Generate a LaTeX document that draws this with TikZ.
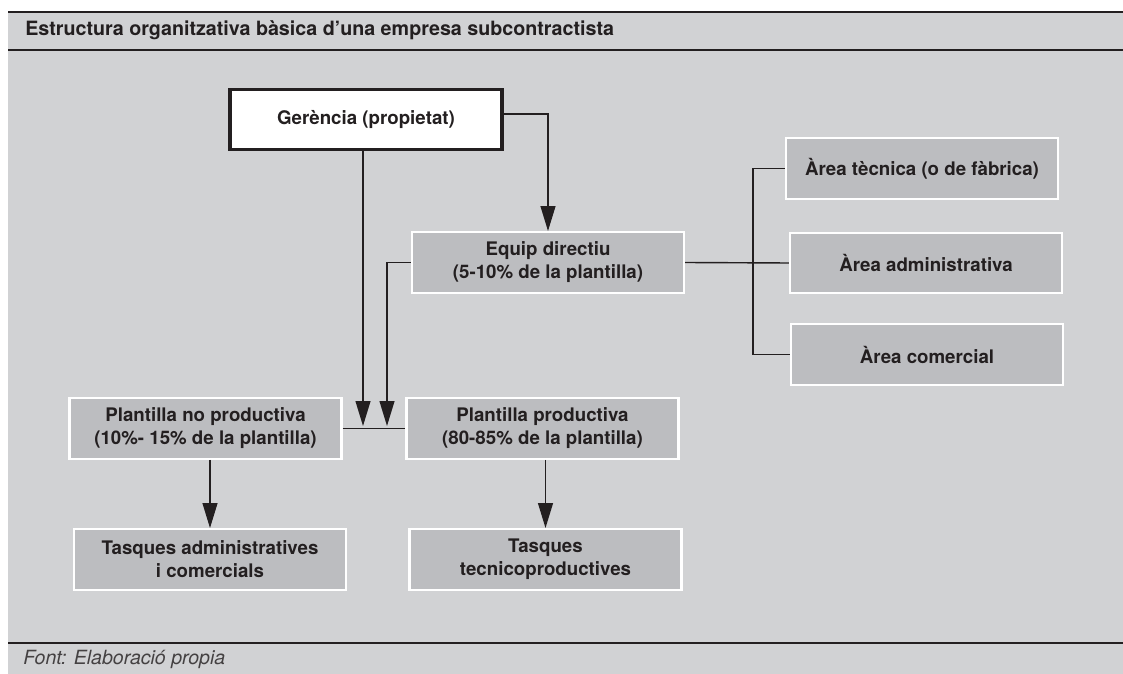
\documentclass[tikz,border=0pt]{standalone}
\usepackage{fontspec}
\setmainfont{TeX Gyre Heros}
\usepackage{xcolor}
\usepackage{tikz}
\usetikzlibrary{arrows.meta,positioning,calc}
\definecolor{panel}{HTML}{D1D2D4}
\definecolor{boxgrey}{HTML}{BCBDC0}
\definecolor{ink}{HTML}{231F20}

\begin{document}
\begin{tikzpicture}[
    x=0.025cm, y=-0.025cm,
    font=\fontsize{13.3}{16.4}\selectfont\bfseries,
    >={Triangle[length=6.2mm,width=3.7mm]},
    box/.style={draw=white, line width=1.5pt, fill=boxgrey, text=ink, align=center, minimum width=6.8cm, minimum height=1.52cm, inner sep=2pt},
    owner/.style={box, fill=white, draw=ink, line width=2.2pt},
    link/.style={draw=ink, line width=1pt},
    arrow/.style={link, ->}
]
\useasboundingbox (0,0) rectangle (1123,674);
% panel and rules
\fill[panel] (8,12) rectangle (1123,674);
\draw[ink, line width=1.6pt] (8,12) -- (1123,12);
\draw[ink, line width=1.6pt] (8,50) -- (1123,50);
\draw[ink, line width=1.6pt] (8,643) -- (1123,643);
\node[anchor=base west, inner sep=0pt, text=ink, font=\fontsize{14}{16}\selectfont\bfseries] (title) at (25,36) {Estructura organitzativa bàsica d’una empresa subcontractista};
\node[anchor=base west, inner sep=0pt, text=ink!85, font=\fontsize{13.9}{16}\selectfont\itshape] (source) at (23,664) {Font: Elaboració propia};

\node[owner] (ger) at (366,119.5) {Gerència (propietat)};
\node[box] (equip) at (548,262.5) {Equip directiu\\(5-10\% de la plantilla)};
\node[box] (tec) at (922,168.5) {Àrea tècnica (o de fàbrica)};
\node[box] (adm) at (926,263) {Àrea administrativa};
\node[box] (com) at (927,354.5) {Àrea comercial};
\node[box] (noprod) at (205.5,428.5) {Plantilla no productiva\\(10\%- 15\% de la plantilla)};
\node[box] (prod) at (542.5,428.5) {Plantilla productiva\\(80-85\% de la plantilla)};
\node[box] (tasA) at (210,559.5) {Tasques administratives\\i comercials};
\node[box] (tasT) at (545.5,559.5) {Tasques\\tecnicoproductives};

\coordinate (drop1) at (363,426);
\coordinate (drop2) at (387,426);
\coordinate (fork) at (753,263);

\draw[arrow] ([yshift=4pt]ger.east) -| (equip.north);
\draw[arrow] (ger.south -| drop1) -- (drop1);
\draw[arrow] (equip.west) -| (drop2);
\draw[link] (equip.east) -- (adm.west);
\draw[link] (tec.west) -| (fork) |- (com.west);
\draw[link] (noprod.east) -- (prod.west);
\draw[arrow] (tasA.north |- noprod.south) -- (tasA.north);
\draw[arrow] (tasT.north |- prod.south) -- (tasT.north);
\end{tikzpicture}
\end{document}
